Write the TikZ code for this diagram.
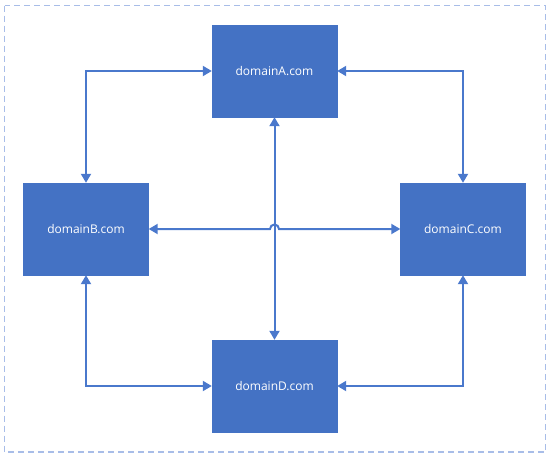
\documentclass[tikz,border=0pt]{standalone}
\usepackage{fontspec}
\setmainfont{Open Sans}
\usetikzlibrary{arrows.meta}
\definecolor{boxblue}{HTML}{4472C4}
\definecolor{lineblue}{HTML}{4A78CC}
\definecolor{borderblue}{HTML}{A8BDE8}
\begin{document}
\begin{tikzpicture}[x=1pt,y=-1pt,
  dom/.style={draw=boxblue,fill=boxblue,minimum width=125pt,minimum height=92pt,inner sep=0pt,text=white,font=\fontsize{12}{14}\selectfont},
  conn/.style={draw=lineblue,line width=2pt,{Triangle[length=9pt,width=10pt]}-{Triangle[length=9pt,width=10pt]}}]
\useasboundingbox (0,0) rectangle (550,458);
\draw[borderblue,line width=1.3pt,dash pattern=on 6pt off 4pt] (4.5,5.5) rectangle (545.5,452);
\node[dom] (A) at (274.5,71) {domainA.com};
\node[dom] (B) at (86,229) {domainB.com};
\node[dom] (C) at (463,229) {domainC.com};
\node[dom] (D) at (274.5,386) {domainD.com};
\draw[conn] (A.west) -| (B.north);
\draw[conn] (A.east) -| (C.north);
\draw[conn] (D.west) -| (B.south);
\draw[conn] (D.east) -| (C.south);
\draw[conn] (A.south) -- (D.north);
\coordinate (h1) at (270,229);
\draw[conn] (B.east) -- (h1) arc (180:360:4.5) -- (C.west);
\end{tikzpicture}
\end{document}
